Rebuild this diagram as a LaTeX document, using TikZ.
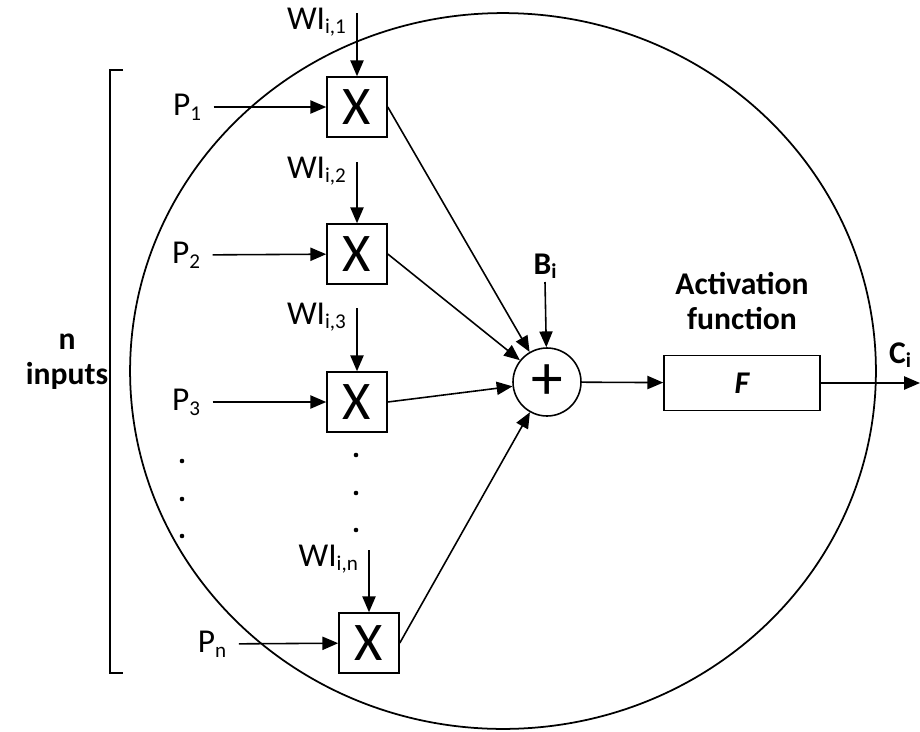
\documentclass[tikz,border=0pt]{standalone}
\usepackage{fontspec}
\setmainfont{Carlito}
\usetikzlibrary{arrows.meta,positioning,calc}

% lowered small index, as in the drawing
\newcommand{\lowidx}[1]{\raisebox{-0.3ex}{\fontsize{12}{14}\selectfont #1}}

\begin{document}
\begin{tikzpicture}[
    x=0.02cm, y=-0.02cm,
    font=\fontsize{19}{22}\selectfont,
    lbl/.style={inner sep=1pt},
    inp/.style={inner ysep=1pt, inner xsep=7pt},
    bold/.style={font=\fontsize{18}{20}\selectfont\bfseries, inner sep=1pt},
    mult/.style={draw, line width=0.9pt, minimum size=1.2cm, inner sep=0pt,
      font=\fontsize{31}{32}\selectfont},
    summer/.style={draw, circle, line width=0.9pt, minimum size=1.36cm,
      inner sep=0pt, font=\fontsize{36}{36}\selectfont},
    funcbox/.style={draw, line width=0.9pt, minimum width=3.12cm,
      minimum height=1.1cm, font=\fontsize{18}{20}\selectfont\bfseries\itshape},
    arr/.style={-{Triangle[length=9pt, width=7.5pt]}, line width=0.9pt},
  ]
    \useasboundingbox (0,0) rectangle (920,731);

    % neuron body and input bracket
    \draw[line width=1pt] (503,371) ellipse [x radius=7.46cm, y radius=7.16cm];
    \draw[line width=0.9pt] (123,70) -- (110,70) -- (110,673) -- (123,673);
    \node[bold, align=center] (ninputs) at (67,362) {n\\inputs};

    % weight multipliers
    \node[mult] (m1) at (357,107) {X};
    \node[mult] (m2) at (357,254) {X};
    \node[mult] (m3) at (357,402) {X};
    \node[mult] (mn) at (369,643) {X};

    % inputs
    \node[inp] (p1) at (187,107) {P\lowidx{1}};
    \node[inp] (p2) at (186,255) {P\lowidx{2}};
    \node[inp] (p3) at (186,402) {P\lowidx{3}};
    \node[inp] (pn) at (212,644) {P\lowidx{n}};
    \draw[arr] (p1) -- (m1);
    \draw[arr] (p2) -- (m2);
    \draw[arr] (p3) -- (m3);
    \draw[arr] (pn) -- (mn);

    % weights
    \coordinate (w1) at (357,13);
    \coordinate (w2) at (357,162);
    \coordinate (w3) at (357,308);
    \coordinate (wn) at (369,550);
    \node[lbl, anchor=base east] (w1lab) at ([xshift=-0.18cm, yshift=-0.32cm]w1) {WI\lowidx{i,1}};
    \node[lbl, anchor=base east] (w2lab) at ([xshift=-0.18cm, yshift=-0.32cm]w2) {WI\lowidx{i,2}};
    \node[lbl, anchor=base east] (w3lab) at ([xshift=-0.18cm, yshift=-0.32cm]w3) {WI\lowidx{i,3}};
    \node[lbl, anchor=base east] (wnlab) at ([xshift=-0.18cm, yshift=-0.32cm]wn) {WI\lowidx{i,n}};
    \draw[arr] (w1) -- (m1);
    \draw[arr] (w2) -- (m2);
    \draw[arr] (w3) -- (m3);
    \draw[arr] (wn) -- (mn);

    % ellipsis dots
    \foreach \y in {461,499,536} \fill (182,\y) circle[radius=1.3pt];
    \foreach \y in {455,493,530} \fill (356,\y) circle[radius=1.3pt];

    % summation and bias
    \node[summer] (sum) at (547,382) {+};
    \coordinate (bi) at (545,282);
    \node[bold, above=0.02cm of bi] (bilab) {B\lowidx{i}};
    \draw[arr] (bi) -- (sum);
    \foreach \m in {m1,m2,m3,mn}
      \draw[arr] (\m.east) -- (sum);

    % activation
    \node[funcbox] (act) at (742,383) {F};
    \node[bold, align=center, above=0.46cm of act] (actlab) {Activation\\function};
    \draw[arr] (sum) -- (act);

    % output
    \coordinate (out) at (920,383);
    \node[bold] (cilab) at (900,355) {C\lowidx{i}};
    \draw[arr] (act) -- (out);
\end{tikzpicture}
\end{document}
